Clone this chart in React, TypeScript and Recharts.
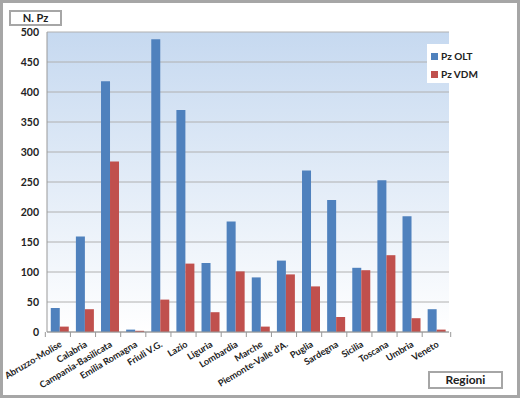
import { BarChart, Bar, XAxis, YAxis, CartesianGrid, Legend } from "recharts";

const regions = [
	"Abruzzo-Molise", "Calabria", "Campania-Basilicata", "Emilia Romagna", "Friuli V.G.",
	"Lazio", "Liguria", "Lombardia", "Marche", "Piemonte-Valle d'A.", "Puglia",
	"Sardegna", "Sicilia", "Toscana", "Umbria", "Veneto"
];
const pzOlt = [40, 159, 418, 4, 488, 370, 115, 184, 91, 119, 269, 220, 107, 253, 193, 38];
const pzVdm = [9, 38, 284, 2, 54, 114, 33, 101, 9, 96, 76, 25, 103, 128, 23, 4];
const yTicks = [0, 50, 100, 150, 200, 250, 300, 350, 400, 450, 500];

const data = regions.map((r, i) => ({ region: r, olt: pzOlt[i], vdm: pzVdm[i] }));

const FONT = "Lato, 'Open Sans', sans-serif";

const RegionTick = (props: any) => {
	const { x, y, payload, index } = props;
	const half = 456 / regions.length / 2;
	return (
		<g>
			<line x1={x - half} y1={y - 8} x2={x - half} y2={y - 3} stroke="#999" />
			{index === regions.length - 1 && (
				<line x1={x + half} y1={y - 8} x2={x + half} y2={y - 3} stroke="#999" />
			)}
			<text
				x={x + 3}
				y={y + 6}
				textAnchor="end"
				transform={`rotate(-31, ${x + 3}, ${y + 6})`}
				fontSize={9.2}
				fontWeight="bold"
				fill="#222"
				fontFamily={FONT}
			>
				{payload.value}
			</text>
		</g>
	);
};

const LegendBox = () => (
	<div style={{ background: "#fff", width: 53, height: 39, fontFamily: FONT, fontSize: 10, fontWeight: "bold", color: "#222", whiteSpace: "nowrap" }}>
		<div style={{ display: "flex", alignItems: "center", paddingTop: 6, paddingLeft: 4 }}>
			<span style={{ width: 7, height: 7, background: "#4f81bd", marginRight: 3, flexShrink: 0 }} />Pz OLT
		</div>
		<div style={{ display: "flex", alignItems: "center", paddingTop: 6, paddingLeft: 4 }}>
			<span style={{ width: 7, height: 7, background: "#c0504d", marginRight: 3, flexShrink: 0 }} />Pz VDM
		</div>
	</div>
);

export default function App() {
	return (
		<div style={{ position: "absolute", left: 0, top: 0, width: 520, height: 398, background: "#fff", boxSizing: "border-box", border: "3px solid #a6a6a6" }}>
			<div style={{ position: "absolute", left: 6, top: 7, width: 49, height: 12, border: "2px solid #a6a6a6", fontFamily: FONT, fontSize: 11, fontWeight: "bold", textAlign: "center", lineHeight: "12px", color: "#222" }}>
				N. Pz
			</div>
			<div style={{ position: "absolute", left: 425, top: 368, width: 71, height: 14, border: "2px solid #a6a6a6", fontFamily: FONT, fontSize: 12, fontWeight: "bold", textAlign: "center", lineHeight: "14px", color: "#222" }}>
				Regioni
			</div>
			<div style={{ position: "absolute", left: -3, top: -3 }}>
				<BarChart width={520} height={398} data={data} margin={{ top: 32, right: 18, bottom: 0, left: 0 }} barCategoryGap="15%" barGap={0}>
					<defs>
						<linearGradient id="plotBg" x1="0" y1="0" x2="0" y2="1">
							<stop offset="0%" stopColor="#c6d9f0" />
							<stop offset="100%" stopColor="#ffffff" />
						</linearGradient>
					</defs>
					<CartesianGrid vertical={false} fill="url(#plotBg)" stroke="#b0b0b0" strokeWidth={1} />
					<XAxis dataKey="region" interval={0} tick={<RegionTick />} tickLine={false} axisLine={{ stroke: "#999" }} height={66} />
					<YAxis domain={[0, 500]} ticks={yTicks} width={47} tickLine={false} axisLine={{ stroke: "#999" }} tick={{ fontSize: 10.5, fontWeight: "bold", fill: "#222", fontFamily: FONT }} />
					<Legend content={<LegendBox />} layout="vertical" verticalAlign="top" align="right" wrapperStyle={{ left: 427, top: 44, width: 53 }} />
					<Bar dataKey="olt" name="Pz OLT" fill="#4f81bd" isAnimationActive={false} />
					<Bar dataKey="vdm" name="Pz VDM" fill="#c0504d" isAnimationActive={false} />
				</BarChart>
			</div>
		</div>
	);
}
